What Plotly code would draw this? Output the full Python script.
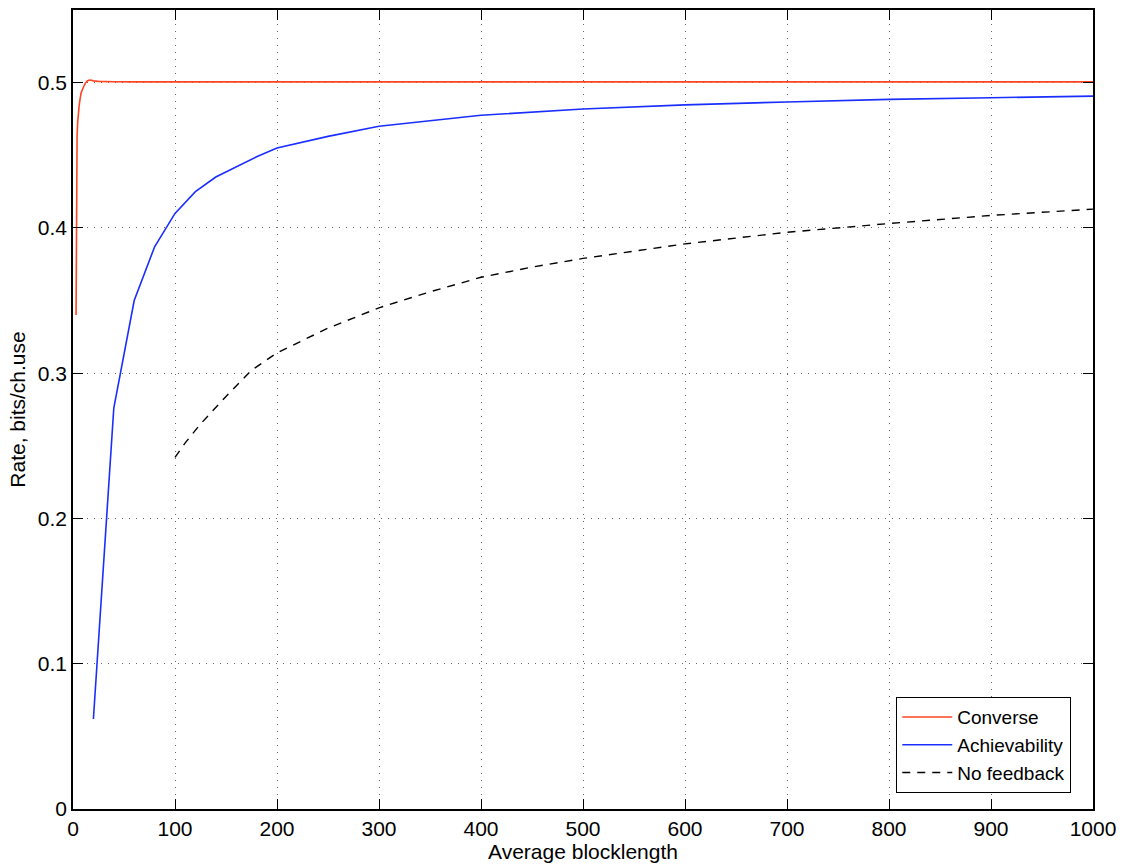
import plotly.graph_objects as go

# Converse
conv_x = [3, 3.1, 3.3, 3.6, 4, 4.5, 5, 6, 7, 8, 10, 12, 14, 16, 18, 20, 25, 30, 40, 60, 100, 200, 400, 600, 800, 1000]
conv_y = [0.340, 0.380, 0.415, 0.445, 0.463, 0.472, 0.477, 0.484, 0.489, 0.493, 0.4965, 0.4995, 0.5012, 0.5018, 0.5016, 0.5012, 0.5009, 0.5007, 0.5006, 0.5005, 0.5005, 0.5005, 0.5005, 0.5005, 0.5005, 0.5005]

# Achievability
ach_x = [20, 40, 60, 80, 100, 120, 140, 160, 180, 200, 250, 300, 350, 400, 500, 600, 700, 800, 900, 1000]
ach_y = [0.062, 0.276, 0.350, 0.387, 0.410, 0.425, 0.435, 0.442, 0.449, 0.455, 0.463, 0.470, 0.474, 0.4775, 0.4819, 0.4847, 0.4867, 0.4885, 0.4896, 0.4907]

# No feedback
nf_x = [100, 110, 125, 150, 175, 200, 250, 300, 350, 400, 450, 500, 600, 700, 800, 900, 1000]
nf_y = [0.242, 0.252, 0.265, 0.284, 0.302, 0.314, 0.331, 0.345, 0.356, 0.366, 0.373, 0.379, 0.389, 0.397, 0.403, 0.4086, 0.4129]

x_ticks = [0, 100, 200, 300, 400, 500, 600, 700, 800, 900, 1000]
y_ticks = [0, 0.1, 0.2, 0.3, 0.4, 0.5]
y_tick_labels = ["0", "0.1", "0.2", "0.3", "0.4", "0.5"]

FONT = "Liberation Sans, Arial, Helvetica, sans-serif"

fig = go.Figure()
fig.add_trace(go.Scatter(x=conv_x, y=conv_y, mode="lines", name="Converse",
                         line=dict(color="#ff4422", width=1.6)))
fig.add_trace(go.Scatter(x=ach_x, y=ach_y, mode="lines", name="Achievability",
                         line=dict(color="#1a2eff", width=1.6)))
fig.add_trace(go.Scatter(x=nf_x, y=nf_y, mode="lines", name="No feedback",
                         line=dict(color="black", width=1.4, dash="8px,7px")))

axis_common = dict(
    showline=True, linecolor="black", linewidth=1.5, mirror="ticks",
    ticks="inside", ticklen=10, tickwidth=1.2, tickcolor="black",
    showgrid=True, gridcolor="#666666", gridwidth=1, griddash="1px,6px",
    zeroline=False, tickfont=dict(size=21, color="black", family=FONT),
)

fig.update_xaxes(range=[0, 1000], tickmode="array", tickvals=x_ticks,
                 title=dict(text="Average blocklength", font=dict(size=21, color="black", family=FONT), standoff=3),
                 **axis_common)
fig.update_yaxes(range=[0, 0.55], tickmode="array", tickvals=y_ticks, ticktext=y_tick_labels,
                 title=dict(text="Rate, bits/ch.use", font=dict(size=21, color="black", family=FONT), standoff=6),
                 **axis_common)

fig.update_layout(
    width=1124, height=866,
    margin=dict(l=73, r=26, t=8, b=51),
    paper_bgcolor="white", plot_bgcolor="white",
    font=dict(family=FONT, color="black"),
    legend=dict(x=0.9785, y=0.02, xanchor="right", yanchor="bottom",
                bgcolor="white", bordercolor="black", borderwidth=1.2,
                font=dict(size=19, color="black", family=FONT),
                tracegroupgap=0, itemwidth=50),
    showlegend=True,
)

fig.write_html("out.html", config={"displayModeBar": False},
               post_script="document.body.style.margin='0px';document.body.style.overflow='hidden';")
